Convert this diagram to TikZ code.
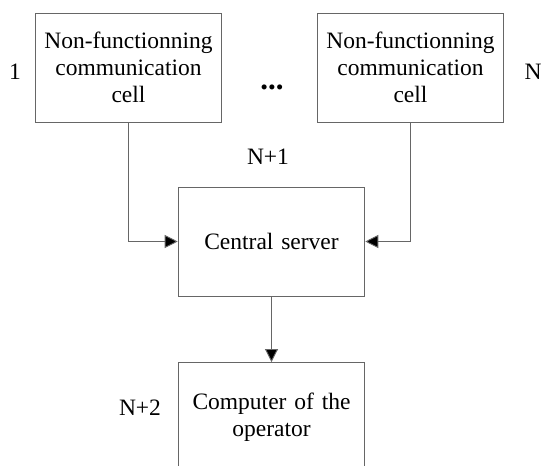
\documentclass[tikz,border=0pt]{standalone}
\usepackage{fontspec}
\setmainfont{Liberation Serif}
\usetikzlibrary{positioning,arrows.meta}
\tikzstyle{cell} = [rectangle, draw=black!60, line width=0.9pt, minimum width=185pt, minimum height=109pt, text width=180pt, align=center, font=\fontsize{23.5}{27}\selectfont]
\tikzstyle{lbl} = [font=\fontsize{23.5}{27}\selectfont]
\tikzstyle{arrow} = [draw=black!60, line width=0.9pt, -{Triangle[length=13pt,width=13pt,fill=black]}]

\begin{document}
\begin{tikzpicture}[x=1pt,y=-1pt]
\useasboundingbox (0,0) rectangle (550,466);
% cells 1 ... N
\node[cell] (cell1) at (128.5,67.5) {Non-functionning\\communication\\cell};
\node[cell] (cellN) at (410.5,67.5) {Non-functionning\\communication\\cell};
\node[font=\fontsize{31}{35}\selectfont\bfseries, inner sep=0pt] (dots) at (272,87) {...};
\node[lbl] (lbl1) at (15,72) {1};
\node[lbl] (lblN) at (533,72) {N};
% server and operator
\node[cell] (server) at (271.5,241.5) {Central server};
\node[lbl] (lblS) at (268,157) {N+1};
\node[cell] (operator) at (271.5,417) {Computer of the\\operator};
\node[lbl] (lblO) at (140,408) {N+2};

\draw[arrow] (cell1.south) |- (server.west);
\draw[arrow] (cellN.south) |- (server.east);
\draw[arrow] (server) -- (operator);
\end{tikzpicture}
\end{document}
